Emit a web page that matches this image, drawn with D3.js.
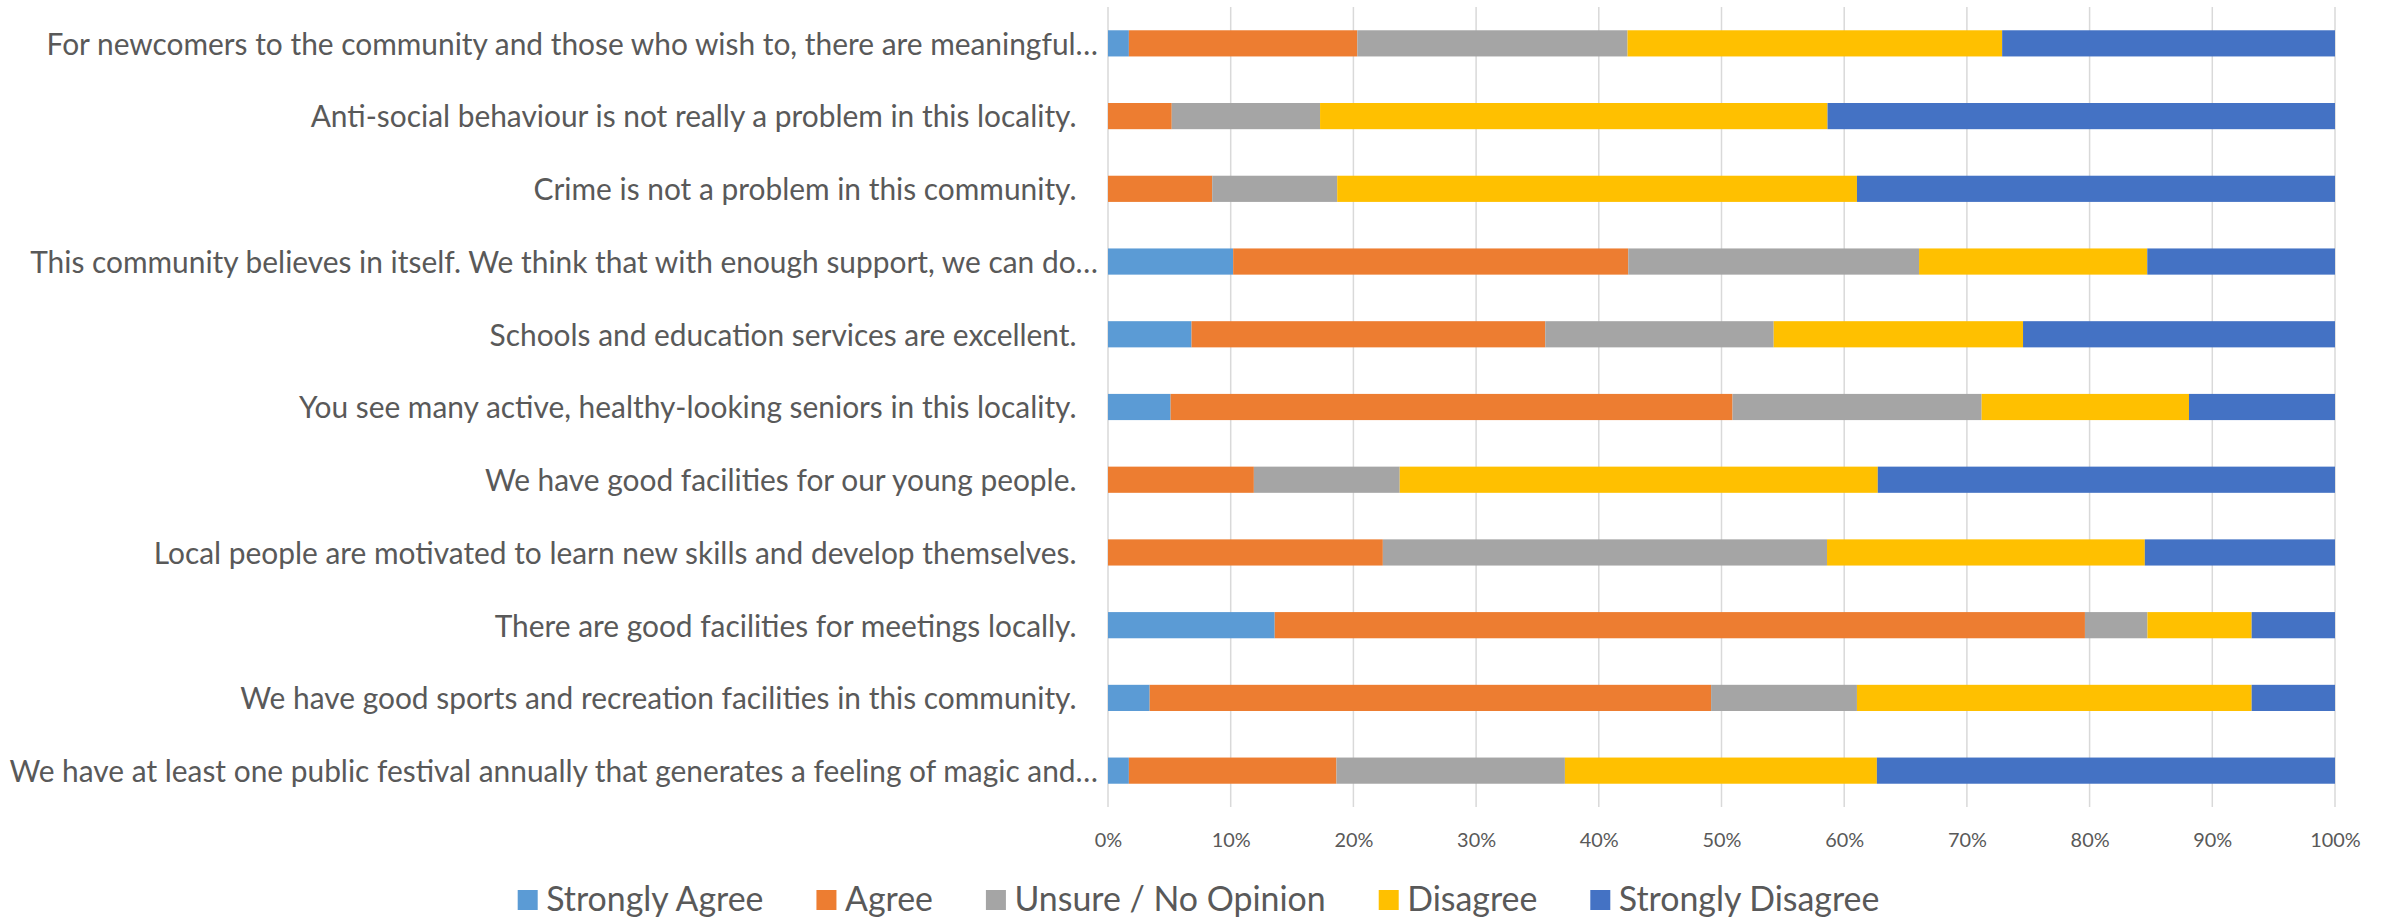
<!DOCTYPE html>
<html>
<head>
<meta charset="utf-8">
<script src="https://cdn.jsdelivr.net/npm/d3@7"></script>
<style>
  html, body { margin: 0; padding: 0; background: #ffffff; }
  svg { display: block; }
</style>
</head>
<body>
<svg id="chart" width="2394" height="919"></svg>
<script>
// ---------- DATA (percent of respondents) ----------
const categories = [
  "For newcomers to the community and those who wish to, there are meaningful…",
  "Anti-social behaviour is not really a problem in this locality.",
  "Crime is not a problem in this community.",
  "This community believes in itself. We think that with enough support, we can do…",
  "Schools and education services are excellent.",
  "You see many active, healthy-looking seniors in this locality.",
  "We have good facilities for our young people.",
  "Local people are motivated to learn new skills and develop themselves.",
  "There are good facilities for meetings locally.",
  "We have good sports and recreation facilities in this community.",
  "We have at least one public festival annually that generates a feeling of magic and…"
];
const seriesNames = ["Strongly Agree", "Agree", "Unsure / No Opinion", "Disagree", "Strongly Disagree"];
const stronglyAgree    = [1.7,  0.0,  0.0, 10.2,  6.8,  5.1,  0.0,  0.0, 13.6,  3.4,  1.7];
const agree            = [18.6, 5.2,  8.5, 32.2, 28.8, 45.8, 11.9, 22.4, 66.1, 45.8, 16.9];
const unsure           = [22.0, 12.1, 10.2, 23.7, 18.6, 20.3, 11.9, 36.2,  5.1, 11.9, 18.6];
const disagree         = [30.5, 41.4, 42.4, 18.6, 20.3, 16.9, 39.0, 25.9,  8.5, 32.2, 25.4];
const stronglyDisagree = [27.1, 41.4, 39.0, 15.3, 25.4, 11.9, 37.3, 15.5,  6.8,  6.8, 37.3];
const tickValues = [0, 0.1, 0.2, 0.3, 0.4, 0.5, 0.6, 0.7, 0.8, 0.9, 1.0];
const tickLabels = ["0%", "10%", "20%", "30%", "40%", "50%", "60%", "70%", "80%", "90%", "100%"];
const seriesColors = ["#5B9BD5", "#ED7D31", "#A5A5A5", "#FFC000", "#4472C4"];

// ---------- BUILD TABLE ----------
const seriesArrays = [stronglyAgree, agree, unsure, disagree, stronglyDisagree];
const table = categories.map((c, i) => {
  const row = { category: c };
  seriesNames.forEach((s, k) => { row[s] = seriesArrays[k][i]; });
  return row;
});

const svg = d3.select("#chart");
const FONT = "Lato, 'Open Sans', 'Noto Sans', sans-serif";
const TEXT = "#595959";

// font fitting helper
function fitSize(str, target) {
  const t = svg.append("text").attr("font-family", FONT).attr("font-size", 100).text(str);
  const w = t.node().getComputedTextLength();
  t.remove();
  return 100 * target / w;
}

// ---------- SCALES ----------
const x = d3.scaleLinear().domain([0, 1]).range([1108, 2335]);
const y = d3.scaleBand().domain(categories).range([7, 807]).paddingInner(0.64).paddingOuter(0.32);
const color = d3.scaleOrdinal().domain(seriesNames).range(seriesColors);

// ---------- GRIDLINES ----------
svg.append("g").attr("class", "grid")
  .selectAll("line").data(tickValues).join("line")
  .attr("x1", d => x(d)).attr("x2", d => x(d))
  .attr("y1", y.range()[0]).attr("y2", y.range()[1])
  .attr("stroke", "#d9d9d9").attr("stroke-width", 1.5);

// ---------- BARS ----------
const stack = d3.stack().keys(seriesNames).offset(d3.stackOffsetExpand);
const stacked = stack(table);
svg.append("g").attr("class", "bars")
  .selectAll("g").data(stacked).join("g")
  .attr("fill", d => color(d.key))
  .selectAll("rect").data(d => d).join("rect")
  .attr("x", d => x(d[0]))
  .attr("width", d => Math.max(0, x(d[1]) - x(d[0])))
  .attr("y", d => y(d.data.category))
  .attr("height", y.bandwidth());

// ---------- X AXIS LABELS ----------
const tickSize = fitSize("100%", 50.5);
const xAxis = d3.axisBottom(x).tickValues(tickValues)
  .tickFormat((d, i) => tickLabels[i]).tickSize(0).tickPadding(0);
const gx = svg.append("g").attr("transform", "translate(0,0)").call(xAxis);
gx.select(".domain").remove();
gx.selectAll("text")
  .attr("y", 846.5).attr("dy", null)
  .attr("font-family", FONT).attr("font-size", tickSize).attr("fill", TEXT);

// ---------- CATEGORY LABELS ----------
const catSize = fitSize("Local people are motivated to learn new skills and develop themselves.", 923);
svg.append("g").attr("class", "cats")
  .selectAll("text").data(categories).join("text")
  .attr("x", d => d.endsWith("…") ? 1098 : 1076.5)
  .attr("y", d => y(d) + y.bandwidth() / 2 + catSize * 0.38)
  .attr("text-anchor", "end")
  .attr("font-family", FONT).attr("font-size", catSize).attr("fill", TEXT)
  .text(d => d);

// ---------- LEGEND ----------
const legSize = fitSize("Unsure / No Opinion", 311.5);
const sw = 20, swGap = 8.5, itemGap = 53;
const widths = seriesNames.map(s => {
  const t = svg.append("text").attr("font-family", FONT).attr("font-size", legSize).text(s);
  const w = t.node().getComputedTextLength(); t.remove(); return w;
});
const total = d3.sum(widths) + seriesNames.length * (sw + swGap) + (seriesNames.length - 1) * itemGap;
let cx = 1198.5 - total / 2;
const legend = svg.append("g").attr("class", "legend");
seriesNames.forEach((s, i) => {
  const g = legend.append("g").attr("transform", `translate(${cx},0)`);
  g.append("rect").attr("x", 0).attr("y", 890).attr("width", sw).attr("height", sw).attr("fill", color(s));
  g.append("text").attr("x", sw + swGap).attr("y", 910.5)
    .attr("font-family", FONT).attr("font-size", legSize).attr("fill", TEXT).text(s);
  cx += sw + swGap + widths[i] + itemGap;
});
</script>
</body>
</html>
